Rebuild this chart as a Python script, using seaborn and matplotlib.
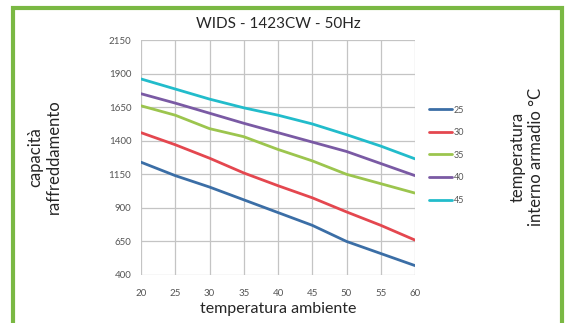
import pandas as pd
import matplotlib.pyplot as plt
import seaborn as sns
from matplotlib.patches import Rectangle

# dati
temp_ambiente = [20, 25, 30, 35, 40, 45, 50, 55, 60]
cap_25 = [1240, 1140, 1055, 960, 865, 770, 650, 560, 470]
cap_30 = [1460, 1370, 1270, 1160, 1065, 975, 870, 770, 660]
cap_35 = [1660, 1590, 1490, 1430, 1335, 1250, 1150, 1080, 1010]
cap_40 = [1750, 1680, 1605, 1530, 1460, 1390, 1320, 1230, 1140]
cap_45 = [1860, 1785, 1710, 1645, 1590, 1525, 1445, 1360, 1265]
serie = ["25", "30", "35", "40", "45"]
y_ticks = [400, 650, 900, 1150, 1400, 1650, 1900, 2150]
x_ticks = [20, 25, 30, 35, 40, 45, 50, 55, 60]

colori = ["#3b6ea6", "#e4474f", "#9cc54e", "#7a5aa4", "#22bccb"]

df = pd.DataFrame({
    "temperatura": temp_ambiente * 5,
    "capacita": cap_25 + cap_30 + cap_35 + cap_40 + cap_45,
    "interno": sum([[s] * len(temp_ambiente) for s in serie], []),
})

sns.set_style("white")
plt.rcParams["font.family"] = ["Lato", "DejaVu Sans"]

fig = plt.figure(figsize=(5.68, 3.23), dpi=100)
ax = fig.add_axes([141 / 568, 1 - 275 / 323, 274 / 568, 235 / 323])

sns.lineplot(data=df, x="temperatura", y="capacita", hue="interno",
             palette=colori, linewidth=2, ax=ax)

ax.set_xlim(20, 60)
ax.set_ylim(400, 2150)
ax.set_xticks(x_ticks)
ax.set_yticks(y_ticks)
ax.tick_params(labelsize=7, labelcolor="#555555", length=0)
ax.tick_params(axis="x", pad=10)
ax.tick_params(axis="y", pad=7)
ax.grid(True, color="#c4c4c4", linewidth=0.9)
for s in ax.spines.values():
    s.set_visible(False)

ax.set_xlabel("temperatura ambiente", fontsize=11.5, labelpad=3)
ax.set_ylabel("")
ax.set_title("WIDS - 1423CW - 50Hz", fontsize=11, pad=9)

fig.text(0.079, 0.514, "capacità\nraffreddamento", rotation=90,
         ha="center", va="center", fontsize=12, linespacing=1.2)
fig.text(0.927, 0.514, "temperatura\ninterno armadio °C", rotation=90,
         ha="center", va="center", fontsize=12, linespacing=1.2)

ax.legend(loc="center left", bbox_to_anchor=(1.02, 0.51), frameon=False,
          fontsize=6.5, handlelength=2.6, labelspacing=1.5, handletextpad=0.2)
for t in ax.get_legend().get_texts():
    t.set_color("#555555")

# cornice verde
fig.patches.append(Rectangle((13 / 568, -0.05), 549 / 568, 1 - 8 / 323 + 0.05,
                             transform=fig.transFigure, fill=False,
                             edgecolor="#7ab843", linewidth=3))

plt.savefig("out.png", dpi=100)
